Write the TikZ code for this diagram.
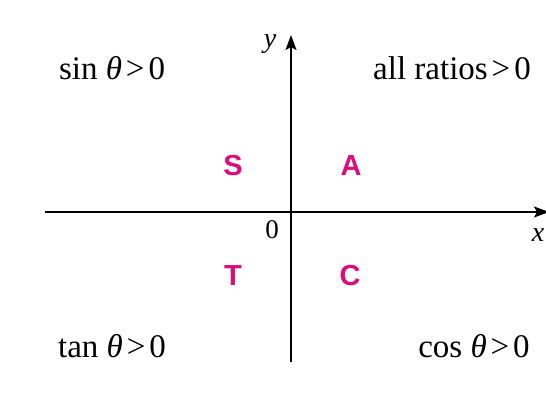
\documentclass[tikz,border=0pt]{standalone}
\usepackage{fontspec}
\setmainfont{Liberation Serif}
\newfontfamily\quadfont{Liberation Sans}
\usetikzlibrary{arrows.meta}
\definecolor{quadmag}{HTML}{E0097E}
\tikzset{
  axisline/.style={line width=1.3pt, -{Stealth[length=15pt,width=11pt,inset=3pt]}},
  cond/.style={font=\fontsize{33}{38}\selectfont, inner sep=0pt},
  small/.style={font=\fontsize{27}{30}\selectfont, inner sep=0pt},
  quad/.style={font=\quadfont\bfseries\fontsize{29}{32}\selectfont, text=quadmag, inner sep=0pt},
  axlabel/.style={font=\fontsize{28}{32}\selectfont\itshape, inner sep=0pt}
}
\newcommand{\gtsym}{\hspace{0.12em}>\hspace{0.12em}}
\begin{document}
\begin{tikzpicture}[x=1pt,y=-1pt]
\useasboundingbox (0,0) rectangle (546,396);
\coordinate (xl) at (45,212);
\coordinate (xr) at (549,212);
\coordinate (yb) at (291,362);
\coordinate (yt) at (291,35);
\draw[axisline] (xl) -- (xr);
\draw[axisline] (yb) -- (yt);
\node[axlabel] (ylab) at (270,44) {y};
\node[axlabel] (xlab) at (538,235) {x};
\node[small] (zero) at (272,230) {0};
\node[cond] (q2) at (112,68) {sin {\itshape θ}\gtsym 0};
\node[cond] (q1) at (452,68) {all ratios\gtsym 0};
\node[cond] (q3) at (112,346) {tan {\itshape θ}\gtsym 0};
\node[cond] (q4) at (474,346) {cos {\itshape θ}\gtsym 0};
\node[quad] (S) at (233,166) {S};
\node[quad] (A) at (351,166) {A};
\node[quad] (T) at (233,276) {T};
\node[quad] (C) at (350,276) {C};
\end{tikzpicture}
\end{document}
